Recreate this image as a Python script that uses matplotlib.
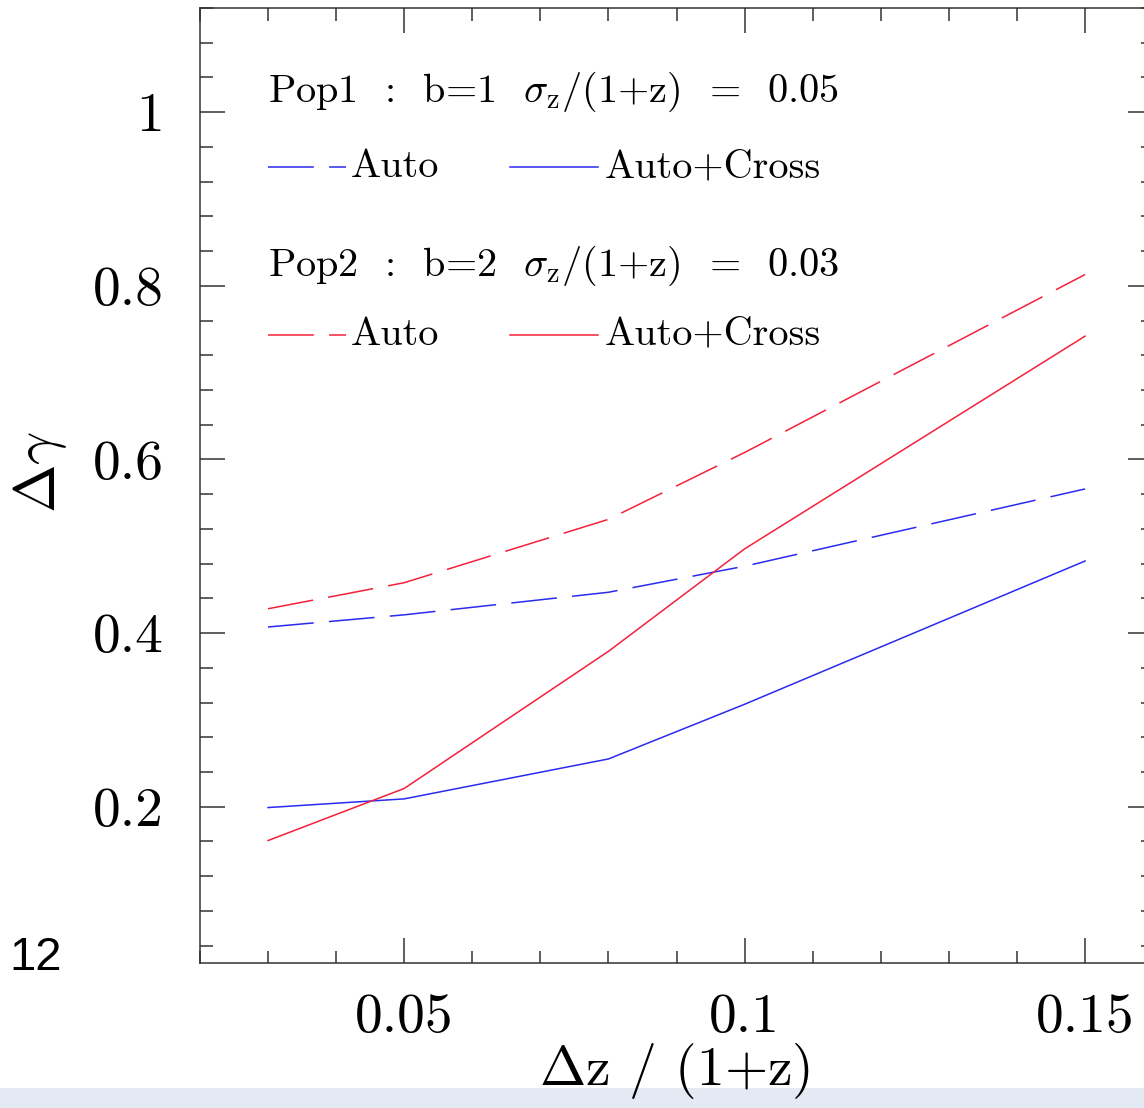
import matplotlib
matplotlib.use("Agg")
from matplotlib import pyplot as plt
from matplotlib.ticker import FixedLocator, FixedFormatter, MultipleLocator
from matplotlib.patches import Rectangle

# data
dz = [0.03, 0.05, 0.08, 0.10, 0.15]
pop1_auto = [0.407, 0.421, 0.447, 0.477, 0.566]
pop1_cross = [0.199, 0.209, 0.255, 0.318, 0.483]
pop2_auto = [0.428, 0.458, 0.531, 0.608, 0.813]
pop2_cross = [0.161, 0.221, 0.379, 0.497, 0.742]

xticks = [0.05, 0.1, 0.15]
xticklabels = ["0.05", "0.1", "0.15"]
yticks = [0.2, 0.4, 0.6, 0.8, 1.0]
yticklabels = ["0.2", "0.4", "0.6", "0.8", "1"]

blue = "#2b2bf0"
red = "#f5203a"
dash = (30, 10)

plt.rcParams["mathtext.fontset"] = "cm"
plt.rcParams["font.family"] = "cmr10"
plt.rcParams["axes.unicode_minus"] = False

fig = plt.figure(figsize=(11.44, 11.08), dpi=100)
ax = fig.add_axes([0.1748, 0.1309, 1.008 - 0.1748, 0.9928 - 0.1309])

# the data lines
ax.plot(dz, pop1_auto, color=blue, lw=1.1, dashes=dash)
ax.plot(dz, pop1_cross, color=blue, lw=1.1)
ax.plot(dz, pop2_auto, color=red, lw=1.1, dashes=dash)
ax.plot(dz, pop2_cross, color=red, lw=1.1)

ax.set_xlim(0.02, 0.16)
ax.set_ylim(0.02, 1.12)

ax.xaxis.set_major_locator(FixedLocator(xticks))
ax.xaxis.set_major_formatter(FixedFormatter(xticklabels))
ax.xaxis.set_minor_locator(MultipleLocator(0.01))
ax.yaxis.set_major_locator(FixedLocator(yticks))
ax.yaxis.set_major_formatter(FixedFormatter(yticklabels))
ax.yaxis.set_minor_locator(MultipleLocator(0.04))

ax.tick_params(which="both", direction="in", top=True, right=True,
               width=1.1, color="#333333", labelsize=40)
ax.tick_params(which="major", length=18)
ax.tick_params(which="minor", length=9)
ax.tick_params(axis="x", pad=22)
ax.tick_params(axis="y", pad=26)
for sp in ax.spines.values():
    sp.set_linewidth(1.1)
    sp.set_color("#333333")

# key drawn as text plus short sample lines (axes coords)
tsize = 29
ax.text(0.0714, 0.902, r"Pop1  :  b=1  $\sigma_{\rm z}$/(1+z)  =  0.05",
        transform=ax.transAxes, fontsize=tsize, va="baseline")
ax.text(0.0714, 0.719, r"Pop2  :  b=2  $\sigma_{\rm z}$/(1+z)  =  0.03",
        transform=ax.transAxes, fontsize=tsize, va="baseline")
for yy, c in [(0.833, blue), (0.658, red)]:
    ax.plot([0.0714, 0.153], [yy, yy], transform=ax.transAxes,
            color=c, lw=1.1, dashes=dash)
    ax.plot([0.325, 0.418], [yy, yy], transform=ax.transAxes, color=c, lw=1.1)
    ax.text(0.158, yy, "Auto", transform=ax.transAxes, fontsize=tsize, va="center")
    ax.text(0.425, yy, "Auto+Cross", transform=ax.transAxes, fontsize=tsize, va="center")

fig.text(0.035, 0.574, r"$\Delta\gamma$", rotation=90, fontsize=42,
         ha="center", va="center")

# light band at the bottom of the page crop
fig.patches.append(Rectangle((0, 0), 1, 0.018, transform=fig.transFigure,
                             facecolor="#e3eaf4", edgecolor="none", zorder=0))
fig.text(0.59, 0.021, r"$\Delta$z / (1+z)", fontsize=40, ha="center",
         va="baseline", zorder=5)
fig.text(0.008, 0.1245, "12", fontsize=34, family="Liberation Sans", va="baseline")

fig.savefig("out.png", dpi=100)
